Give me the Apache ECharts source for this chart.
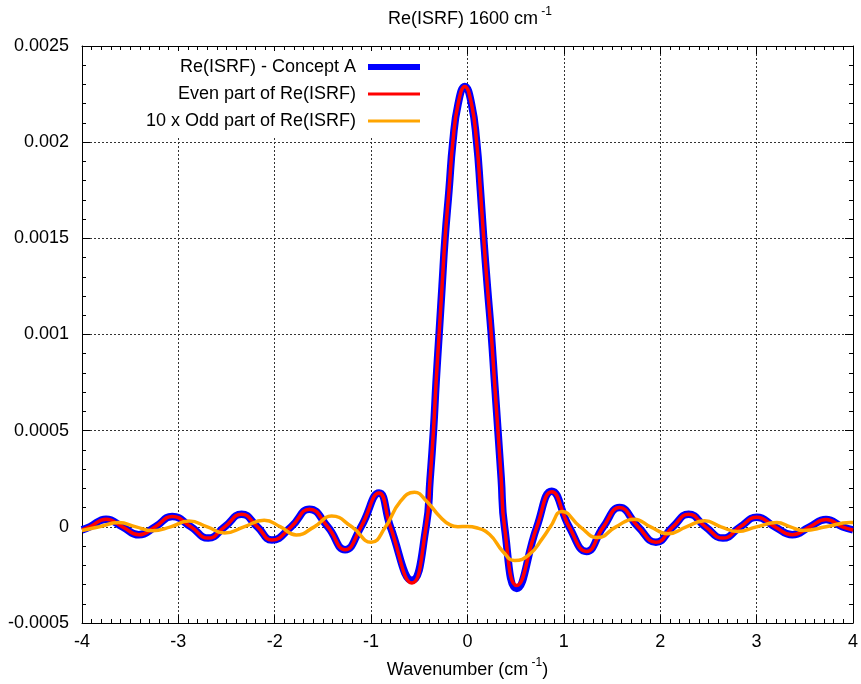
<!DOCTYPE html>
<html>
<head>
<meta charset="utf-8">
<script src="https://cdn.jsdelivr.net/npm/echarts@6/dist/echarts.min.js"></script>
<style>
  html, body { margin: 0; padding: 0; background: #fff; }
  #chart { width: 861px; height: 684px; }
</style>
</head>
<body>
<div id="chart"></div>
<script>
// Axis ticks
const xTickValues = [-4, -3, -2, -1, 0, 1, 2, 3, 4];
const xTickLabels = ['-4', '-3', '-2', '-1', '0', '1', '2', '3', '4'];
const yTickValues = [-0.0005, 0, 0.0005, 0.001, 0.0015, 0.002, 0.0025];
const yTickLabels = ['-0.0005', '0', '0.0005', '0.001', '0.0015', '0.002', '0.0025'];

// Series names
const seriesNames = ['Re(ISRF) - Concept A', 'Even part of Re(ISRF)', '10 x Odd part of Re(ISRF)'];

// Re(ISRF) - Concept A
const reX = [-4.0, -3.92, -3.75, -3.58, -3.41, -3.24, -3.064, -2.87, -2.69, -2.52, -2.344, -2.18, -2.03, -1.83,
  -1.64, -1.45, -1.27, -1.105, -0.918, -0.80, -0.576, -0.43, -0.388, -0.353, -0.326, -0.295, -0.264, -0.233,
  -0.192, -0.152, -0.097, -0.028, 0.041, 0.095, 0.134, 0.168, 0.206, 0.247, 0.281, 0.316, 0.35, 0.384, 0.51,
  0.72, 0.874, 1.055, 1.235, 1.41, 1.578, 1.77, 1.955, 2.13, 2.295, 2.47, 2.65, 2.83, 3.003, 3.19, 3.37, 3.55,
  3.72, 3.89, 4.0];
const reY = [-0.000016, 0, 0.00004, 0, -0.0000415, 0, 0.0000535, 0, -0.0000587, 0, 0.000066, 0, -0.000069, 0,
  0.000092, 0, -0.000119, 0, 0.000176, 0, -0.000278, 0, 0.00025, 0.0005, 0.00075, 0.001, 0.00125, 0.0015,
  0.00175, 0.002, 0.0022, 0.00229, 0.0022, 0.002, 0.00175, 0.0015, 0.00125, 0.001, 0.00075, 0.0005, 0.00025, 0,
  -0.00032, 0, 0.000185, 0, -0.000128, 0, 0.0001, 0, -0.00008, 0, 0.000066, 0, -0.0000587, 0, 0.00005, 0,
  -0.0000415, 0, 0.000038, 0, -0.000016];

// Even part of Re(ISRF)
const evenX = [-4.0, -3.92, -3.75, -3.58, -3.41, -3.24, -3.064, -2.87, -2.69, -2.52, -2.344, -2.18, -2.03, -1.83,
  -1.64, -1.45, -1.27, -1.105, -0.918, -0.80, -0.576, -0.43, -0.388, -0.353, -0.326, -0.295, -0.264, -0.233,
  -0.192, -0.152, -0.097, -0.028, 0.041, 0.095, 0.134, 0.168, 0.206, 0.247, 0.281, 0.316, 0.35, 0.384, 0.51,
  0.72, 0.874, 1.055, 1.235, 1.41, 1.578, 1.77, 1.955, 2.13, 2.295, 2.47, 2.65, 2.83, 3.003, 3.19, 3.37, 3.55,
  3.72, 3.89, 4.0];
const evenY = [-0.000016, 0, 0.00004, 0, -0.0000415, 0, 0.0000535, 0, -0.0000587, 0, 0.000066, 0, -0.000069, 0,
  0.000092, 0, -0.000119, 0, 0.000176, 0, -0.000292, 0, 0.00025, 0.0005, 0.00075, 0.001, 0.00125, 0.0015,
  0.00175, 0.002, 0.0022, 0.00229, 0.0022, 0.002, 0.00175, 0.0015, 0.00125, 0.001, 0.00075, 0.0005, 0.00025, 0,
  -0.000305, 0, 0.000182, 0, -0.000128, 0, 0.0001, 0, -0.00008, 0, 0.000066, 0, -0.0000587, 0, 0.00005, 0,
  -0.0000415, 0, 0.000038, 0, -0.000016];

// 10 x Odd part of Re(ISRF)
const oddX = [-4.0, -3.82, -3.62, -3.44, -3.27, -3.08, -2.89, -2.70, -2.52, -2.32, -2.11, -1.94, -1.777, -1.59,
  -1.41, -1.20, -1.0, -0.85, -0.70, -0.55, -0.42, -0.29, -0.18, -0.10, 0.0, 0.093, 0.23, 0.367, 0.49, 0.64,
  0.778, 0.86, 0.98, 1.17, 1.35, 1.54, 1.73, 1.90, 2.08, 2.27, 2.46, 2.63, 2.80, 3.0, 3.21, 3.35, 3.49, 3.72,
  3.97, 4.0];
const oddY = [-0.000019, 0, 0.000022, 0, -0.00002, 0, 0.00003, 0, -0.000032, 0, 0.000034, 0, -0.000042, 0,
  0.000056, 0, -0.00008, 0, 0.00013, 0.00018, 0.00013, 0.000055, 0.00001, 0.000001, 0.0000015, -0.000005,
  -0.00004, -0.000128, -0.000175, -0.000145, -0.00006, 0, 0.00008, 0, -0.000056, 0, 0.00004, 0, -0.000036, 0,
  0.000031, 0, -0.000024, 0, 0.000022, 0, -0.000019, 0, 0.000022, 0.000022];

const pairs = (xs, ys) => xs.map((x, i) => [x, ys[i]]);

const FONT = 'Liberation Sans';
const fmtX = v => { const i = xTickValues.findIndex(t => Math.abs(t - v) < 1e-9); return i < 0 ? '' : xTickLabels[i]; };
const fmtY = v => { const i = yTickValues.findIndex(t => Math.abs(t - v) < 1e-12); return i < 0 ? '' : yTickLabels[i]; };

const supRich = {
  b: { fontFamily: FONT, fontSize: 18, fontWeight: 'normal', color: '#000', lineHeight: 22, verticalAlign: 'bottom' },
  sup: { fontFamily: FONT, fontSize: 12, fontWeight: 'normal', color: '#000', lineHeight: 12, verticalAlign: 'top' }
};

const frameLine = { show: true, onZero: false, lineStyle: { color: '#000', width: 1 } };
const majorTick = { show: true, inside: true, length: 8, lineStyle: { color: '#000', width: 1 } };
const gridDots = { show: true, lineStyle: { color: '#333', width: 1, type: [2, 2] } };

const chart = echarts.init(document.getElementById('chart'), null, { renderer: 'canvas' });
chart.setOption({
  backgroundColor: '#fff',
  animation: false,
  title: {
    text: '{b|Re(ISRF) 1600 cm}{sup| -1}',
    left: 388, top: 6, padding: 0,
    textStyle: { fontWeight: 'normal', rich: supRich }
  },
  legend: {
    orient: 'vertical',
    align: 'right',
    right: 433, top: 51,
    padding: [7, 5, 7, 6],
    backgroundColor: '#fff',
    itemWidth: 52, itemHeight: 10, itemGap: 9,
    itemStyle: { opacity: 0 },
    textStyle: { fontFamily: FONT, fontSize: 18, color: '#000', padding: [0, 7, 0, 0] },
    data: [
      { name: seriesNames[0], lineStyle: { width: 6, color: '#0000ff' } },
      { name: seriesNames[1], lineStyle: { width: 3, color: '#ff0000' } },
      { name: seriesNames[2], lineStyle: { width: 3, color: '#ffa500' } }
    ]
  },
  grid: { left: 82, right: 1, top: 46, bottom: 60, containLabel: false },
  xAxis: [{
    type: 'value', position: 'bottom', min: -4, max: 4, interval: 1,
    axisLine: frameLine, axisTick: majorTick,
    minorTick: { show: true, splitNumber: 10, length: 4, lineStyle: { color: '#000', width: 1 } },
    splitLine: gridDots,
    axisLabel: { fontFamily: FONT, fontSize: 18, color: '#000', margin: 10, formatter: fmtX },
    name: '{b|Wavenumber (cm}{sup| -1}{b|)}', nameLocation: 'middle', nameGap: 34,
    nameTextStyle: { rich: supRich }
  }, {
    type: 'value', position: 'top', min: -4, max: 4, interval: 1,
    axisLine: frameLine, axisTick: majorTick,
    minorTick: { show: true, splitNumber: 10, length: 4, lineStyle: { color: '#000', width: 1 } },
    splitLine: { show: false }, axisLabel: { show: false }
  }],
  yAxis: [{
    type: 'value', position: 'left', min: -0.0005, max: 0.0025, interval: 0.0005,
    axisLine: frameLine, axisTick: majorTick,
    minorTick: { show: true, splitNumber: 5, length: 4, lineStyle: { color: '#000', width: 1 } },
    splitLine: gridDots,
    axisLabel: { fontFamily: FONT, fontSize: 18, color: '#000', margin: 13, formatter: fmtY }
  }, {
    type: 'value', position: 'right', min: -0.0005, max: 0.0025, interval: 0.0005,
    axisLine: frameLine, axisTick: majorTick,
    minorTick: { show: true, splitNumber: 5, length: 4, lineStyle: { color: '#000', width: 1 } },
    splitLine: { show: false }, axisLabel: { show: false }
  }],
  series: [{
    name: seriesNames[0], type: 'line', xAxisIndex: 0, yAxisIndex: 0,
    data: pairs(reX, reY), symbol: 'none', smooth: 0.5, z: 2,
    lineStyle: { color: '#0000ff', width: 7.5 }, itemStyle: { color: '#0000ff' }
  }, {
    name: seriesNames[1], type: 'line', xAxisIndex: 0, yAxisIndex: 0,
    data: pairs(evenX, evenY), symbol: 'none', smooth: 0.5, z: 3,
    lineStyle: { color: '#ff0000', width: 3.5 }, itemStyle: { color: '#ff0000' }
  }, {
    name: seriesNames[2], type: 'line', xAxisIndex: 0, yAxisIndex: 0,
    data: pairs(oddX, oddY), symbol: 'none', smooth: 0.5, z: 4,
    lineStyle: { color: '#ffa500', width: 3.5 }, itemStyle: { color: '#ffa500' }
  }]
});
</script>
</body>
</html>
